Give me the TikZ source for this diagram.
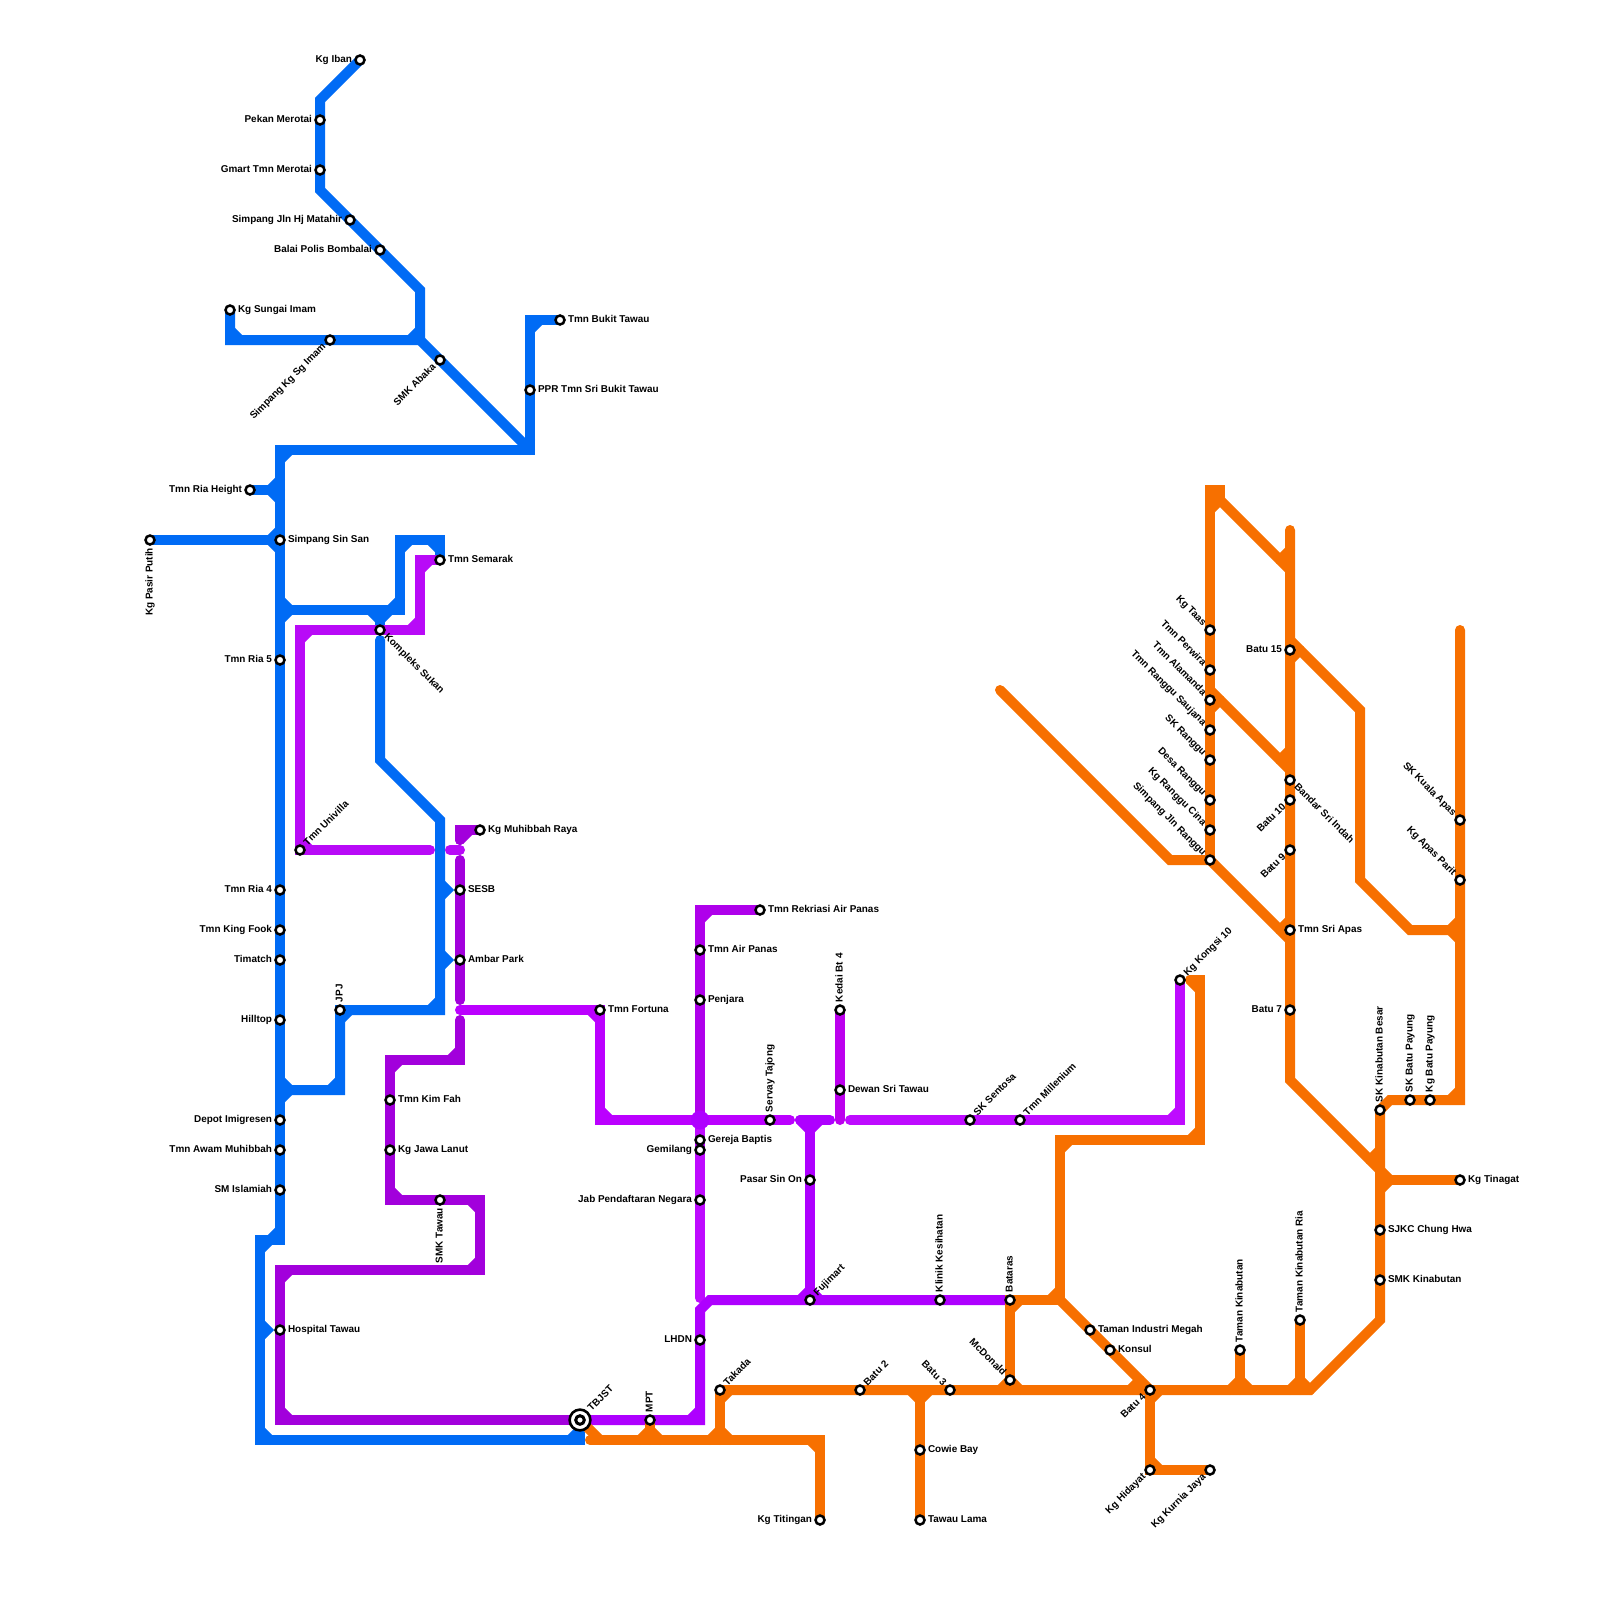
\documentclass[tikz,border=0pt]{standalone}
\usepackage{fontspec}
\setmainfont{Liberation Sans}
\usetikzlibrary{calc}
\pgfdeclarelayer{lines}
\pgfsetlayers{lines,main}
\definecolor{cblue}{HTML}{006BF5}
\definecolor{cdark}{HTML}{A200DC}
\definecolor{cbright}{HTML}{B80AF7}
\definecolor{cfort}{HTML}{BB00FF}
\definecolor{cvert}{HTML}{AF00EB}
\definecolor{clight}{HTML}{BE0BFF}
\definecolor{clow}{HTML}{AE00FF}
\definecolor{ckedai}{HTML}{BC00EE}
\definecolor{cblob}{HTML}{AF00FF}
\definecolor{corange}{HTML}{F77000}
\tikzset{
  mline/.style={line width=5pt,line cap=round,line join=miter,miter limit=10},
  lnblue/.style={mline,draw=cblue},
  lndark/.style={mline,draw=cdark},
  lnbright/.style={mline,draw=cbright},
  lnfort/.style={mline,draw=cfort},
  lnvert/.style={mline,draw=cvert},
  lnlight/.style={mline,draw=clight},
  lnlow/.style={mline,draw=clow},
  lnkedai/.style={mline,draw=ckedai},
  lnorange/.style={mline,draw=corange},
  stn/.style={circle,draw=black,fill=white,line width=1.25pt,minimum size=4.5pt,inner sep=0pt,outer sep=0pt},
  hubcore/.style={circle,draw=black,fill=white,line width=1.5pt,minimum size=4.3pt,inner sep=0pt,outer sep=0pt},
  hub/.style={circle,draw=black,fill=white,line width=1.3pt,minimum size=10.4pt,inner sep=0pt,outer sep=0pt},
  lab/.style={inner sep=0pt,outer sep=0pt,text=black,font=\fontsize{4.97pt}{5pt}\selectfont\bfseries},
}
\newcommand\stR[4]{\node[stn] (#1) at (#2) {};
  \node[lab,rotate=#3,anchor=base west] (#1-l) at ($(#1.center)+(#3:4pt)+(#3-90:1.3pt)$) {#4};}
\newcommand\stL[4]{\node[stn] (#1) at (#2) {};
  \node[lab,rotate=#3,anchor=base east] (#1-l) at ($(#1.center)+(#3+180:4pt)+(#3-90:1.3pt)$) {#4};}
\newcommand\ml[3]{\draw[#1] (#2.center) \foreach \p in {#3}{ -- (\p.center)};}
\newcommand\chf[4]{\draw[#1] ([shift={(#3)}]#2.center) -- ([shift={(#4)}]#2.center);}
\newcommand\chp[5]{\draw[#1] ([shift={(#3)}]#2.center) -- ([shift={(#4)}]#2.center) -- ([shift={(#5)}]#2.center);}
\begin{document}
\begin{tikzpicture}[x=0.5pt,y=-0.5pt]
\useasboundingbox (0,0) rectangle (1600,1600);
% corner and junction coordinates
\foreach \n/\x/\y in {
 b1/320/100,b2/320/190,b3/420/290,b4/420/340,b5/230/340,b6/530/450,b7/280/450,b8/530/320,
 b9/280/1240,b10/260/1240,b11/260/1440,b12/580/1440,b13/280/490,b14/280/610,b15/400/610,
 b16/400/540,b17/440/540,b18/380/610,b19/380/640,b20/380/760,b21/440/820,b22/440/1010,
 b23/340/1090,b24/280/1090,
 p1/420/560,p2/420/630,p3/300/630,p4/430/850,p5/450/850,p6/460/850,
 d1/460/830,d2/460/840,d3/460/860,d4/460/1000,d5/460/1020,d6/460/1060,d7/390/1060,
 d8/390/1200,d9/480/1200,d10/480/1270,d11/280/1270,d12/280/1420,
 f1/460/1010,f2/600/1120,f3/700/1120,f4/790/1120,v1/700/910,v2/700/1298,
 l1/700/1420,l2/700/1310,l3/710/1300,q1/800/1120,q2/810/1120,q3/830/1120,k1/840/1120,
 s1/850/1120,s2/1180/1120,
 o1/590/1440,o2/820/1440,o3/600/1440,o4/720/1440,o5/650/1440,o6/920/1390,o7/1010/1390,
 o8/1240/1390,o9/1300/1390,o10/1310/1390,o11/1380/1320,o12/1380/1180,o13/1380/1170,
 o14/1390/1100,o15/1460/1100,o16/1460/930,o17/1460/630,o18/1190/980,o19/1200/980,
 o20/1200/1140,o21/1060/1140,o22/1060/1300,o24/1000/690,o25/1170/860,o26/1290/940,
 o27/1220/490,o28/1210/490,o29/1220/500,o30/1290/570,o31/1290/530,o32/1290/1080,
 o33/1360/710,o34/1360/880,o35/1410/930,o36/1290/640,a1/1210/690,a2/1290/770
}{\coordinate (\n) at (\x,\y);}
% stations and labels
\stL{iban}{360,60}{0}{Kg Iban}
\stL{pekan}{320,120}{0}{Pekan Merotai}
\stL{gmart}{320,170}{0}{Gmart Tmn Merotai}
\stL{hj}{350,220}{0}{Simpang Jln Hj Matahir}
\stL{bomba}{380,250}{0}{Balai Polis Bombalai}
\stR{sungai}{230,310}{0}{Kg Sungai Imam}
\stL{sgimam}{330,340}{45}{Simpang Kg Sg Imam}
\stL{abaka}{440,360}{45}{SMK Abaka}
\stR{bukit}{560,320}{0}{Tmn Bukit Tawau}
\stR{ppr}{530,390}{0}{PPR Tmn Sri Bukit Tawau}
\stL{height}{250,490}{0}{Tmn Ria Height}
\stR{sinsan}{280,540}{0}{Simpang Sin San}
\stL{pasir}{150,540}{90}{Kg Pasir Putih}
\stL{riaf}{280,660}{0}{Tmn Ria 5}
\stL{riad}{280,890}{0}{Tmn Ria 4}
\stL{kingfook}{280,930}{0}{Tmn King Fook}
\stL{timatch}{280,960}{0}{Timatch}
\stL{hilltop}{280,1020}{0}{Hilltop}
\stL{depot}{280,1120}{0}{Depot Imigresen}
\stL{awam}{280,1150}{0}{Tmn Awam Muhibbah}
\stL{islamiah}{280,1190}{0}{SM Islamiah}
\stR{hospital}{280,1330}{0}{Hospital Tawau}
\stR{jpj}{340,1010}{90}{JPJ}
\stR{kompleks}{380,630}{-45}{Kompleks Sukan}
\stR{semarak}{440,560}{0}{Tmn Semarak}
\stR{univilla}{300,850}{45}{Tmn Univilla}
\stR{muhibbah}{480,830}{0}{Kg Muhibbah Raya}
\stR{sesb}{460,890}{0}{SESB}
\stR{ambar}{460,960}{0}{Ambar Park}
\stR{fortuna}{600,1010}{0}{Tmn Fortuna}
\stR{kimfah}{390,1100}{0}{Tmn Kim Fah}
\stR{jawa}{390,1150}{0}{Kg Jawa Lanut}
\stL{smktawau}{440,1200}{90}{SMK Tawau}
\node[hub] (tbjsthub) at (580,1420) {};
\node[hubcore] (tbjst) at (580,1420) {};
\node[lab,rotate=45,anchor=base west] (tbjst-l) at ($(tbjst.center)+(45:7pt)+(-45:1.3pt)$) {TBJST};
\stR{mpt}{650,1420}{90}{MPT}
\stL{lhdn}{700,1340}{0}{LHDN}
\stR{rekreasi}{760,910}{0}{Tmn Rekriasi Air Panas}
\stR{airpanas}{700,950}{0}{Tmn Air Panas}
\stR{penjara}{700,1000}{0}{Penjara}
\stR{gereja}{700,1140}{0}{Gereja Baptis}
\stL{gemilang}{700,1150}{0}{Gemilang}
\stL{jab}{700,1200}{0}{Jab Pendaftaran Negara}
\stR{servay}{770,1120}{90}{Servay Tajong}
\stR{kedai}{840,1010}{90}{Kedai Bt 4}
\stR{dewan}{840,1090}{0}{Dewan Sri Tawau}
\stL{sinon}{810,1180}{0}{Pasar Sin On}
\stR{fujimart}{810,1300}{45}{Fujimart}
\stR{klinik}{940,1300}{90}{Klinik Kesihatan}
\stR{bataras}{1010,1300}{90}{Bataras}
\stR{sentosa}{970,1120}{45}{SK Sentosa}
\stR{milenium}{1020,1120}{45}{Tmn Millenium}
\stR{kongsi}{1180,980}{45}{Kg Kongsi 10}
\stR{takada}{720,1390}{45}{Takada}
\stR{batud}{860,1390}{45}{Batu 2}
\stL{batut}{950,1390}{-45}{Batu 3}
\stL{mcd}{1010,1380}{-45}{McDonald}
\stL{batuf}{1150,1390}{45}{Batu 4}
\stR{cowie}{920,1450}{0}{Cowie Bay}
\stR{lama}{920,1520}{0}{Tawau Lama}
\stL{titingan}{820,1520}{0}{Kg Titingan}
\stL{hidayat}{1150,1470}{45}{Kg Hidayat}
\stL{kurnia}{1210,1470}{45}{Kg Kurnia Jaya}
\stR{industri}{1090,1330}{0}{Taman Industri Megah}
\stR{konsul}{1110,1350}{0}{Konsul}
\stR{tkin}{1240,1350}{90}{Taman Kinabutan}
\stR{tkria}{1300,1320}{90}{Taman Kinabutan Ria}
\stR{smkk}{1380,1280}{0}{SMK Kinabutan}
\stR{chung}{1380,1230}{0}{SJKC Chung Hwa}
\stR{tinagat}{1460,1180}{0}{Kg Tinagat}
\stR{kbesar}{1380,1110}{90}{SK Kinabutan Besar}
\stR{bpayung}{1410,1100}{90}{SK Batu Payung}
\stR{kgbp}{1430,1100}{90}{Kg Batu Payung}
\stL{batus}{1290,1010}{0}{Batu 7}
\stR{srapas}{1290,930}{0}{Tmn Sri Apas}
\stL{batun}{1290,850}{45}{Batu 9}
\stL{batut10}{1290,800}{45}{Batu 10}
\stR{bandar}{1290,780}{-45}{Bandar Sri Indah}
\stL{batu15}{1290,650}{0}{Batu 15}
\stL{taas}{1210,630}{-45}{Kg Taas}
\stL{perwira}{1210,670}{-45}{Tmn Perwira}
\stL{alamanda}{1210,700}{-45}{Tmn Alamanda}
\stL{saujana}{1210,730}{-45}{Tmn Ranggu Saujana}
\stL{ranggu}{1210,760}{-45}{SK Ranggu}
\stL{desa}{1210,800}{-45}{Desa Ranggu}
\stL{cina}{1210,830}{-45}{Kg Ranggu Cina}
\stL{simpang}{1210,860}{-45}{Simpang Jln Ranggu}
\stL{kuala}{1460,820}{-45}{SK Kuala Apas}
\stL{parit}{1460,880}{-45}{Kg Apas Parit}
\begin{pgfonlayer}{lines}
% blue
\ml{lnblue}{iban}{b1,pekan,gmart,b2,hj,bomba,b3,b4,sgimam,b5,sungai}
\ml{lnblue}{b4}{abaka,b6}
\ml{lnblue}{tbjst}{b12,b11,b10,b9,islamiah,awam,depot,b24,hilltop,timatch,kingfook,riad,riaf,b14,sinsan,b13,b7,b6,ppr,b8,bukit}
\ml{lnblue}{height}{b13}
\ml{lnblue}{pasir}{sinsan}
\ml{lnblue}{b14}{b18,b15,b16,b17,semarak}
\ml{lnblue}{b18}{kompleks}
\ml{lnblue}{b19}{b20,b21,b22,jpj,b23,b24}
\chf{lnblue}{b4}{-10,0}{0,-10}
\chf{lnblue}{b5}{0,-10}{10,0}
\chf{lnblue}{b6}{-10,0}{0,-10}
\chf{lnblue}{b7}{0,10}{10,0}
\chf{lnblue}{b8}{0,10}{10,0}
\chf{lnblue}{b12}{-10,0}{0,-10}
\chf{lnblue}{b11}{0,-10}{10,0}
\chf{lnblue}{b10}{0,10}{10,0}
\chf{lnblue}{b9}{-10,0}{0,-10}
\chp{lnblue}{b13}{0,-10}{-10,0}{0,10}
\chp{lnblue}{sinsan}{0,-10}{-10,0}{0,10}
\chp{lnblue}{b14}{0,-10}{10,0}{0,10}
\chp{lnblue}{b24}{0,-10}{10,0}{0,10}
\chf{lnblue}{b15}{-10,0}{0,-10}
\chf{lnblue}{b16}{0,10}{10,0}
\chf{lnblue}{b17}{-10,0}{0,10}
\chp{lnblue}{b18}{-10,0}{0,10}{10,0}
\chf{lnblue}{b22}{-10,0}{0,-10}
\chf{lnblue}{jpj}{0,10}{10,0}
\chf{lnblue}{b23}{-10,0}{0,-10}
\chp{lnblue}{sesb}{-20,-7}{-13,0}{-20,7}
\chp{lnblue}{ambar}{-20,-7}{-13,0}{-20,7}
\chp{lnblue}{hospital}{-20,-7}{-13,0}{-20,7}
% dark purple
\ml{lndark}{muhibbah}{d1,d2}
\ml{lndark}{d3}{sesb,ambar,d4}
\ml{lndark}{d5}{d6,d7,kimfah,jawa,d8,smktawau,d9,d10,d11,hospital,d12,tbjst}
\chf{lndark}{d1}{0,10}{10,0}
\chf{lndark}{d6}{-10,0}{0,-10}
\chf{lndark}{d7}{0,10}{10,0}
\chf{lndark}{d8}{0,-10}{10,0}
\chf{lndark}{d9}{-10,0}{0,10}
\chf{lndark}{d10}{-10,0}{0,-10}
\chf{lndark}{d11}{0,10}{10,0}
\chf{lndark}{d12}{0,-10}{10,0}
% bright purple
\ml{lnbright}{semarak}{p1,p2,kompleks,p3,univilla,p4}
\ml{lnbright}{p5}{p6}
\chf{lnbright}{p1}{0,10}{10,0}
\chf{lnbright}{p2}{-10,0}{0,-10}
\chf{lnbright}{p3}{0,10}{10,0}
\chf{lnbright}{univilla}{0,-10}{10,0}
% vertical and Fortuna line
\ml{lnvert}{rekreasi}{v1,airpanas,penjara,f3}
\chf{lnvert}{v1}{0,10}{10,0}
\ml{lnlight}{f3}{gereja,gemilang,jab,v2}
\ml{lnfort}{f1}{fortuna,f2,f3,servay,f4}
\chf{lnfort}{fortuna}{-10,0}{0,10}
\chf{lnfort}{f2}{0,-10}{10,0}
\fill[cblob] (f3.center) circle (4.7pt);
% lower purple
\ml{lnlow}{tbjst}{mpt,l1,lhdn,l2,l3,fujimart,klinik,bataras}
\chf{lnlow}{l1}{-10,0}{0,-10}
\ml{lnlow}{q1}{q2,q3}
\ml{lnlow}{q2}{sinon,fujimart}
\chp{lnlow}{q2}{-10,0}{0,10}{10,0}
\chp{lnlow}{fujimart}{-10,0}{0,-10}{10,0}
% Kedai and Sentosa
\ml{lnkedai}{kedai}{dewan,k1}
\ml{lnlight}{s1}{sentosa,milenium,s2,kongsi}
\chf{lnlight}{s2}{-10,0}{0,-10}
% orange
\ml{lnorange}{tbjst}{o3}
\ml{lnorange}{o1}{o3,o5,o4,o2,titingan}
\ml{lnorange}{takada}{o4}
\ml{lnorange}{mpt}{o5}
\ml{lnorange}{takada}{batud,o6,batut,o7,batuf,o8,o9,o10,o11,smkk,chung,o12,o13,kbesar,o14,bpayung,kgbp,o15,o16,parit,kuala,o17}
\ml{lnorange}{o6}{cowie,lama}
\ml{lnorange}{tkin}{o8}
\ml{lnorange}{tkria}{o9}
\ml{lnorange}{mcd}{o7}
\ml{lnorange}{o18}{o19,o20,o21,o22,bataras,mcd}
\ml{lnorange}{o22}{industri,konsul,batuf}
\ml{lnorange}{batuf}{hidayat,kurnia}
\ml{lnorange}{o24}{o25,simpang,o26}
\ml{lnorange}{o29}{o27,o28,taas,perwira,alamanda,saujana,ranggu,desa,cina,simpang}
\ml{lnorange}{o28}{o30}
\ml{lnorange}{a1}{a2}
\ml{lnorange}{o31}{o30,o36,batu15,a2,bandar,batut10,batun,srapas,o26,batus,o32,o13}
\ml{lnorange}{o36}{o33,o34,o35,o16}
\ml{lnorange}{o12}{tinagat}
\chp{lnorange}{o4}{-10,0}{0,-10}{10,0}
\chp{lnorange}{o5}{-10,0}{0,-10}{10,0}
\chf{lnorange}{o2}{-10,0}{0,10}
\chf{lnorange}{takada}{0,10}{10,0}
\chp{lnorange}{o6}{-10,0}{0,10}{10,0}
\chp{lnorange}{o7}{-10,0}{0,-10}{10,0}
\chf{lnorange}{batuf}{-20,0}{-10,-10}
\chf{lnorange}{batuf}{0,10}{10,0}
\chf{lnorange}{hidayat}{0,-10}{10,0}
\chp{lnorange}{o8}{-10,0}{0,-10}{10,0}
\chp{lnorange}{o9}{-10,0}{0,-10}{10,0}
\chf{lnorange}{o12}{0,10}{10,0}
\chf{lnorange}{o13}{0,-20}{-10,-10}
\chf{lnorange}{o13}{0,0}{10,10}
\chf{lnorange}{o15}{-10,0}{0,-10}
\chp{lnorange}{o16}{0,-10}{-10,0}{0,10}
\chf{lnorange}{o19}{-10,0}{0,10}
\chf{lnorange}{o20}{-10,0}{0,-10}
\chf{lnorange}{o21}{0,10}{10,0}
\chf{lnorange}{o22}{-10,0}{0,-10}
\chf{lnorange}{bataras}{0,10}{10,0}
\chf{lnorange}{o26}{0,-20}{-10,-10}
\chf{lnorange}{a2}{0,-20}{-10,-10}
\chf{lnorange}{o30}{0,-20}{-10,-10}
\chf{lnorange}{o28}{0,20}{10,10}
\chf{lnorange}{a1}{0,20}{10,10}
\chf{lnorange}{o36}{0,20}{10,10}
\end{pgfonlayer}
\end{tikzpicture}
\end{document}
